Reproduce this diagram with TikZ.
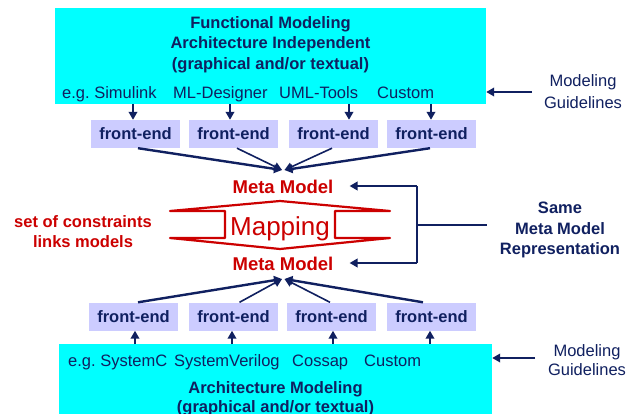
\documentclass[tikz,border=0pt]{standalone}
\usepackage{fontspec}
\setmainfont{Liberation Sans}
\usetikzlibrary{arrows.meta,calc}
\definecolor{navy}{RGB}{16,32,96}
\definecolor{cyanbox}{RGB}{0,255,255}
\definecolor{lav}{RGB}{204,204,255}
\definecolor{mred}{RGB}{204,0,0}
\tikzset{
  fnt/.style={font=\fontsize{16.5}{20}\selectfont},
  txt/.style={fnt, text=navy, inner sep=0pt},
  btxt/.style={fnt, text=navy, inner sep=0pt, font=\fontsize{16.5}{20}\selectfont\bfseries},
  rtxt/.style={inner sep=0pt, text=mred, font=\fontsize{16.5}{20}\selectfont\bfseries},
  bigbox/.style={fill=cyanbox, inner sep=0pt},
  febox/.style={fill=lav, minimum width=89pt, minimum height=28pt, inner sep=0pt,
    text=navy, font=\fontsize{16.5}{20}\selectfont\bfseries},
  arr/.style={draw=navy, line width=2.4pt, -{Triangle[length=8pt,width=8.5pt]}},
  tarr/.style={draw=navy, line width=1.6pt, -{Triangle[length=8pt,width=8.5pt]}},
  navyline/.style={draw=navy, line width=2.4pt},
}
\frenchspacing
\begin{document}
\begin{tikzpicture}[x=1pt,y=-1pt]
\useasboundingbox (0,0) rectangle (636,414);
\clip (0,0) rectangle (636,414);
\fill[white] (0,0) rectangle (636,414);

% ---------- top box ----------
\node[bigbox, minimum width=431pt, minimum height=96pt] (topbox) at (270.5,56) {};
\node[btxt, anchor=base] (t1) at (270.5,29) {Functional Modeling};
\node[btxt, anchor=base] (t2) at (270.5,49) {Architecture Independent};
\node[btxt, anchor=base] (t3) at (270.5,69.5) {(graphical and/or textual)};
\node[txt, anchor=base west] (s1) at (62,99) {e.g. Simulink};
\node[txt, anchor=base west] (s2) at (173,99) {ML-Designer};
\node[txt, anchor=base west] (s3) at (279,99) {UML-Tools};
\node[txt, anchor=base west] (s4) at (377,99) {Custom};

% top front-ends
\node[febox] (fe1) at (135.5,134) {front-end};
\node[febox] (fe2) at (233.5,134) {front-end};
\node[febox] (fe3) at (333.5,134) {front-end};
\node[febox] (fe4) at (431.5,134) {front-end};

\coordinate (d1) at (133,104);
\coordinate (d2) at (230,104);
\coordinate (d3) at (349,104);
\coordinate (d4) at (431,104);
\draw[arr] (d1) -- (d1 |- fe1.north);
\draw[arr] (d2) -- (d2 |- fe2.north);
\draw[arr] (d3) -- (d3 |- fe3.north);
\draw[arr] (d4) -- (d4 |- fe4.north);

% modeling guidelines (top)
\node[txt, anchor=base] (mg1) at (583,87) {Modeling};
\node[txt, anchor=base] (mg2) at (583,109) {Guidelines};
\coordinate (mgA) at (532,92);
\draw[arr] (mgA) -- (mgA -| topbox.east);

% ---------- meta models ----------
\node[rtxt, anchor=base, font=\fontsize{18.5}{22}\selectfont\bfseries] (mmtop) at (283,193) {Meta Model};
\node[rtxt, anchor=base, font=\fontsize{18.5}{22}\selectfont\bfseries] (mmbot) at (283,270) {Meta Model};
\coordinate (tl) at (282,170);
\coordinate (tr) at (284.5,170);
\coordinate (bl) at (282,279);
\coordinate (br) at (284.5,279);

\draw[arr] ($(fe1.south)+(2.5,0)$) -- (tl);
\draw[tarr] ($(fe2.south)+(3.5,0)$) -- (tl);
\draw[tarr] ($(fe3.south)+(-1.5,0)$) -- (tr);
\draw[arr] ($(fe4.south)+(-1.5,0)$) -- (tr);

% mapping shape
\draw[mred, line width=2.2pt, line join=round]
  (170,211) -- (280,201) -- (390,211) -- (335,211) -- (335,238) -- (390,238)
  -- (280,249) -- (170,238) -- (225,238) -- (225,211) -- cycle;
\node[inner sep=0pt, text=mred, font=\fontsize{26}{30}\selectfont, anchor=base] (map) at (280,235) {Mapping};

% set of constraints
\node[rtxt, anchor=base] (c1) at (83,227) {set of constraints};
\node[rtxt, anchor=base] (c2) at (83,247) {links models};

% bracket and same meta model representation
\coordinate (bt) at (417,186);
\coordinate (bb) at (417,263);
\coordinate (bm) at (417,225);
\coordinate (sm) at (487,225);
\draw[arr] (bt) -- ($(bt -| mmtop.east)+(16,0)$);
\draw[arr] (bb) -- ($(bb -| mmbot.east)+(16,0)$);
\draw[navyline] (bt) -- (bb);
\draw[navyline] (bm) -- (sm);
\node[btxt, anchor=base] (r1) at (560,213) {Same};
\node[btxt, anchor=base] (r2) at (560,234) {Meta Model};
\node[btxt, anchor=base] (r3) at (560,254) {Representation};

% ---------- bottom ----------
\node[febox] (fb1) at (133.5,316.5) {front-end};
\node[febox] (fb2) at (233.5,316.5) {front-end};
\node[febox] (fb3) at (331.5,316.5) {front-end};
\node[febox] (fb4) at (431.5,316.5) {front-end};

\draw[arr] ($(fb1.north)+(4.5,0)$) -- (bl);
\draw[tarr] ($(fb2.north)+(6,0)$) -- (bl);
\draw[tarr] ($(fb3.north)+(-1.5,0)$) -- (br);
\draw[arr] ($(fb4.north)+(-8.5,0)$) -- (br);

\node[bigbox, minimum width=433pt, minimum height=90pt] (botbox) at (275.5,389) {};
\coordinate (u1) at (135,344);
\coordinate (u2) at (232,344);
\coordinate (u3) at (333,344);
\coordinate (u4) at (430,344);
\draw[arr] (u1) -- (u1 |- fb1.south);
\draw[arr] (u2) -- (u2 |- fb2.south);
\draw[arr] (u3) -- (u3 |- fb3.south);
\draw[arr] (u4) -- (u4 |- fb4.south);

\node[txt, anchor=base west] (b1) at (68,366) {e.g. SystemC};
\node[txt, anchor=base west] (b2) at (174,366) {SystemVerilog};
\node[txt, anchor=base west] (b3) at (292,366) {Cossap};
\node[txt, anchor=base west] (b4) at (364,366) {Custom};
\node[btxt, anchor=base] (bt1) at (275.5,393) {Architecture Modeling};
\node[btxt, anchor=base] (bt2) at (275.5,412) {(graphical and/or textual)};

% modeling guidelines (bottom)
\node[txt, anchor=base] (mg3) at (587,356) {Modeling};
\node[txt, anchor=base] (mg4) at (587,375) {Guidelines};
\coordinate (mgB) at (535,358);
\draw[arr] (mgB) -- (mgB -| botbox.east);
\end{tikzpicture}
\end{document}
